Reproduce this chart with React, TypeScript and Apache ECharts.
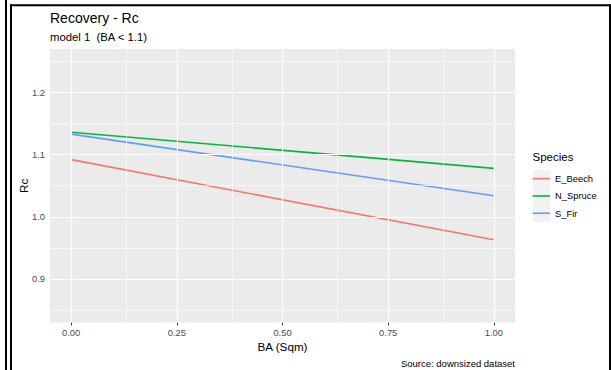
import React, { useEffect, useRef } from "react";
import * as echarts from "echarts";

// ---- data ----
const BA = [0, 1];
const E_Beech = [1.092, 0.963];
const N_Spruce = [1.136, 1.078];
const S_Fir = [1.133, 1.034];
const speciesNames = ["E_Beech", "N_Spruce", "S_Fir"];
const speciesValues = [E_Beech, N_Spruce, S_Fir];
const speciesColors = ["#F8766D", "#00BA38", "#619CFF"];
const xTicks = [0, 0.25, 0.5, 0.75, 1];
const xMinor = [0.125, 0.375, 0.625, 0.875];
const yTicks = [0.9, 1.0, 1.1, 1.2];
const yMinor = [0.85, 0.95, 1.05, 1.15, 1.25];

const FONT = "'Liberation Sans', Arial, sans-serif";

export default function App() {
  const ref = useRef<HTMLDivElement>(null);

  useEffect(() => {
    document.body.style.margin = "0";
    if (!ref.current) return;
    const chart = echarts.init(ref.current, undefined, { renderer: "svg" });

    const gridSeries: any = {
      name: "__grid",
      type: "line",
      data: [[0, 1]],
      symbol: "none",
      lineStyle: { opacity: 0 },
      silent: true,
      z: 1,
      markLine: {
        silent: true,
        symbol: ["none", "none"],
        label: { show: false },
        animation: false,
        data: [
          ...xMinor.map((v) => ({ xAxis: v, lineStyle: { color: "#FFFFFF", width: 0.6, type: "solid" } })),
          ...yMinor.map((v) => ({ yAxis: v, lineStyle: { color: "#FFFFFF", width: 0.6, type: "solid" } })),
          ...xTicks.map((v) => ({ xAxis: v, lineStyle: { color: "#FFFFFF", width: 1.2, type: "solid" } })),
          ...yTicks.map((v) => ({ yAxis: v, lineStyle: { color: "#FFFFFF", width: 1.2, type: "solid" } })),
        ],
      },
    };

    const lineSeries = speciesNames.map((name, i) => ({
      name,
      type: "line",
      data: BA.map((x, j) => [x, speciesValues[i][j]]),
      symbol: "none",
      showSymbol: false,
      z: 3,
      lineStyle: { color: speciesColors[i], width: 1.6 },
      itemStyle: { color: speciesColors[i] },
    }));

    const keyTop = 170;
    const keyH = 17.3;

    chart.setOption({
      animation: false,
      backgroundColor: "#FFFFFF",
      textStyle: { fontFamily: FONT },
      title: [
        {
          text: "Recovery - Rc",
          left: 50,
          top: 11,
          padding: 0,
          textStyle: { fontSize: 14, fontWeight: "normal", color: "#000000", fontFamily: FONT },
        },
        {
          text: "model 1  (BA < 1.1)",
          left: 50,
          top: 31.5,
          padding: 0,
          textStyle: { fontSize: 11.3, fontWeight: "normal", color: "#000000", fontFamily: FONT },
        },
        {
          text: "Source: downsized dataset",
          right: 96,
          top: 358,
          padding: 0,
          textStyle: { fontSize: 9.5, fontWeight: "normal", color: "#000000", fontFamily: FONT },
        },
      ],
      grid: {
        left: 50,
        right: 96,
        top: 49,
        bottom: 47.5,
        show: true,
        backgroundColor: "#EBEBEB",
        borderWidth: 0,
      },
      xAxis: {
        type: "value",
        min: -0.05,
        max: 1.05,
        name: "BA (Sqm)",
        nameLocation: "middle",
        nameGap: 17.5,
        nameMoveOverlap: false,
        nameTextStyle: { fontSize: 11.7, color: "#000000", fontFamily: FONT },
        axisLine: { show: false },
        splitLine: { show: false },
        axisTick: {
          show: true,
          customValues: xTicks,
          length: 3,
          lineStyle: { color: "#333333", width: 1 },
        },
        axisLabel: {
          customValues: xTicks,
          margin: 5.5,
          fontSize: 9.4,
          color: "#4D4D4D",
          fontFamily: FONT,
          formatter: (v: number) => v.toFixed(2),
        },
      },
      yAxis: {
        type: "value",
        min: 0.83,
        max: 1.27,
        name: "Rc",
        nameLocation: "middle",
        nameGap: 20.5,
        nameRotate: 90,
        nameMoveOverlap: false,
        nameTextStyle: { fontSize: 11.7, color: "#000000", fontFamily: FONT },
        axisLine: { show: false },
        splitLine: { show: false },
        axisTick: {
          show: true,
          customValues: yTicks,
          length: 3,
          lineStyle: { color: "#333333", width: 1 },
        },
        axisLabel: {
          customValues: yTicks,
          margin: 5,
          fontSize: 9.4,
          color: "#4D4D4D",
          fontFamily: FONT,
          formatter: (v: number) => v.toFixed(1),
        },
      },
      legend: {
        data: speciesNames,
        orient: "vertical",
        left: 532.7,
        top: keyTop,
        padding: 0,
        itemGap: 0,
        itemWidth: 17.3,
        itemHeight: 1.6,
        icon: "rect",
        selectedMode: false,
        z: 5,
        textStyle: { fontSize: 9.4, color: "#000000", fontFamily: FONT, lineHeight: keyH },
      },
      graphic: [
        ...speciesNames.map((_, i) => ({
          type: "rect",
          z: 1,
          silent: true,
          shape: { x: 532.7, y: keyTop + i * keyH, width: 17.3, height: keyH },
          style: { fill: "#F2F2F2" },
        })),
        {
          type: "text",
          z: 2,
          x: 532.5,
          y: 156.7,
          style: {
            text: "Species",
            fontSize: 11.5,
            fontFamily: FONT,
            fill: "#000000",
            verticalAlign: "middle",
            align: "left",
          },
        },
        // frame lines
        { type: "line", z: 10, silent: true, shape: { x1: 6, y1: 0, x2: 6, y2: 370 }, style: { stroke: "#000", lineWidth: 2 } },
        { type: "line", z: 10, silent: true, shape: { x1: 11, y1: 4.3, x2: 11, y2: 370 }, style: { stroke: "#000", lineWidth: 2 } },
        { type: "line", z: 10, silent: true, shape: { x1: 10, y1: 5.3, x2: 611, y2: 5.3 }, style: { stroke: "#000", lineWidth: 2 } },
        { type: "line", z: 10, silent: true, shape: { x1: 610, y1: 4.3, x2: 610, y2: 370 }, style: { stroke: "#000", lineWidth: 2 } },
      ],
      series: [gridSeries, ...lineSeries],
    });

    return () => chart.dispose();
  }, []);

  return <div ref={ref} style={{ width: 611, height: 370 }} />;
}
